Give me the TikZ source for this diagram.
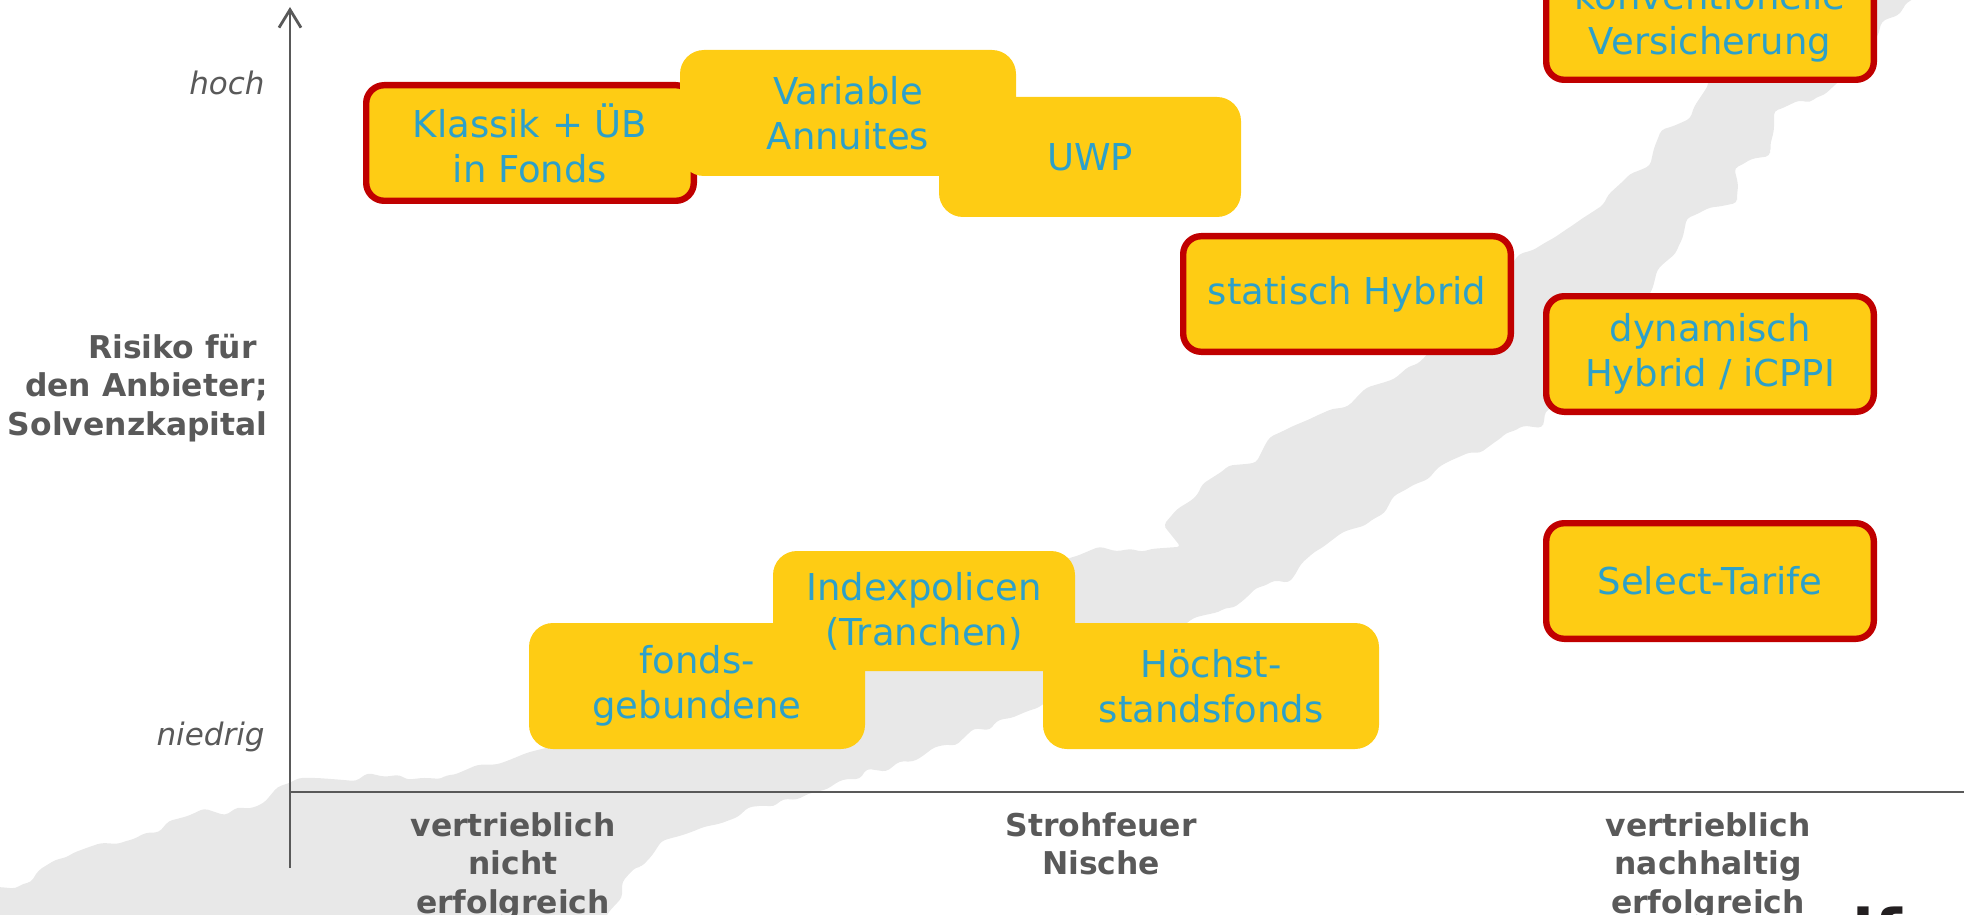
\documentclass[tikz,border=0pt]{standalone}
\usepackage{fontspec}
\setmainfont{DejaVu Sans}
\usepackage{xcolor}
\usepackage{tikz}
\usetikzlibrary{positioning, calc, arrows.meta, decorations.pathmorphing}

\definecolor{gelb}{RGB}{254,204,20}
\definecolor{rot}{RGB}{192,0,0}
\definecolor{blau}{RGB}{44,160,202}
\definecolor{dunkelgrau}{RGB}{89,89,89}
\definecolor{hellgrau}{RGB}{232,232,232}
\definecolor{logoschwarz}{RGB}{35,31,32}

\tikzset{
  produkt/.style = {fill = gelb, rounded corners = 12pt, text = blau,
    align = center, inner sep = 0pt, minimum width = 168pt,
    minimum height = 63pt, font = \fontsize{18.5}{22.5}\selectfont},
  schmal/.style = {minimum width = 151pt, minimum height = 60pt},
  rahmen/.style = {draw = rot, line width = 3.2pt, rounded corners = 9pt,
    minimum width = 163.8pt, minimum height = 57.8pt},
  achse/.style = {draw = dunkelgrau, line width = 1.4pt},
  achsentext/.style = {text = dunkelgrau, inner sep = 0pt,
    font = \bfseries\fontsize{15.7}{19.25}\selectfont},
  stufe/.style = {text = dunkelgrau, inner sep = 0pt,
    font = \itshape\fontsize{15.5}{18}\selectfont}
}

\begin{document}
\begin{tikzpicture}[x = 0.5pt, y = -0.5pt]
        \useasboundingbox (0,0) rectangle (1967,915);
        % grauer Streifen
        \pgfmathsetseed{42}
        \fill [hellgrau, decorate, decoration = {random steps, segment
        length = 7pt, amplitude = 2.5pt}, rounded corners = 2pt]
        (-20,930) -- (-20,890) -- (27,883) -- (70,855) -- (130,840)
        -- (190,815) -- (250,808) -- (295,780) -- (450,775) -- (530,752)
        -- (650,730) -- (760,660) -- (900,600) -- (1073,557) -- (1096,548)
        -- (1180,547) -- (1165,527) -- (1195,497) -- (1226,468)
        -- (1253,463) -- (1268,440) -- (1314,417) -- (1345,407)
        -- (1364,390) -- (1391,380) -- (1450,330) -- (1500,280)
        -- (1517,257) -- (1550,240) -- (1570,227) -- (1600,207)
        -- (1627,177) -- (1647,167) -- (1660,133) -- (1687,120)
        -- (1707,87) -- (1700,40) -- (1800,0) -- (1880,-20) -- (1930,-20)
        -- (1900,13) -- (1885,20) -- (1860,60) -- (1813,100) -- (1777,110)
        -- (1770,153) -- (1737,167) -- (1737,200) -- (1690,217)
        -- (1677,250) -- (1660,267) -- (1647,300) -- (1600,380)
        -- (1548,410) -- (1543,425) -- (1510,432) -- (1498,440)
        -- (1452,460) -- (1410,487) -- (1368,523) -- (1318,550)
        -- (1291,580) -- (1260,587) -- (1222,610) -- (1197,617)
        -- (1150,660) -- (1060,690) -- (1042,705) -- (1000,720)
        -- (916,760) -- (843,780) -- (665,840) -- (633,870) -- (607,915)
        -- (600,930) -- cycle;

        % Achsen
        \coordinate (ursprung) at (290,792);
        \coordinate (yfuss) at (290,868);
        \coordinate (yspitze) at (290,7);
        \coordinate (xende) at (1964,792);
        \draw [achse, -{Straight Barb[length = 9pt, width = 11pt]}]
        (yfuss) -- (yspitze);
        \draw [achse] (ursprung) -- (xende);

        \node (hoch) [stufe, anchor = east] at (265,83) {hoch} ;
        \node (niedrig) [stufe, anchor = east] at (265,737) {niedrig} ;
        \node (risiko) [achsentext, anchor = east, align = right] at
        (268,388) {Risiko für\kern0.35em\\den Anbieter;\\Solvenzkapital} ;
        \node (erfolglos) [achsentext, anchor = north, align = center] at
        (513,812) {vertrieblich\\nicht\\erfolgreich} ;
        \node (nische) [achsentext, anchor = north, align = center] at
        (1101,812) {Strohfeuer\\Nische} ;
        \node (erfolgreich) [achsentext, anchor = north, align = center] at
        (1708,812) {vertrieblich\\nachhaltig\\erfolgreich} ;

        % Produkte
        \node (klassik) [produkt, rahmen] at (530,143) {Klassik + ÜB\\in
        Fonds} ;
        \node (variable) [produkt] at (848,113) {Variable\\Annuites} ;
        \node (uwp) [produkt, schmal] at (1090,157) {UWP} ;
        \node (statisch) [produkt, rahmen] at (1347,294) {statisch Hybrid} ;
        \node (konventionell) [produkt, rahmen] at (1710,22)
        {konventionelle\\Versicherung} ;
        \node (dynamisch) [produkt, rahmen] at (1710,354) {dynamisch\\Hybrid
        / iCPPI} ;
        \node (select) [produkt, rahmen] at (1710,581) {Select-Tarife} ;
        \node (fonds) [produkt] at (697,686) {fonds-\\gebundene} ;
        \node (hoechst) [produkt] at (1211,686) {Höchst-\\standsfonds} ;
        \node (index) [produkt, schmal] at (924,611) {Indexpolicen\\(Tranchen)} ;

        \node (logo) [anchor = north west, inner sep = 0pt, text = logoschwarz,
        font = \bfseries\fontsize{32}{32}\selectfont] at (1852,906) {if} ;
\end{tikzpicture}
\end{document}
